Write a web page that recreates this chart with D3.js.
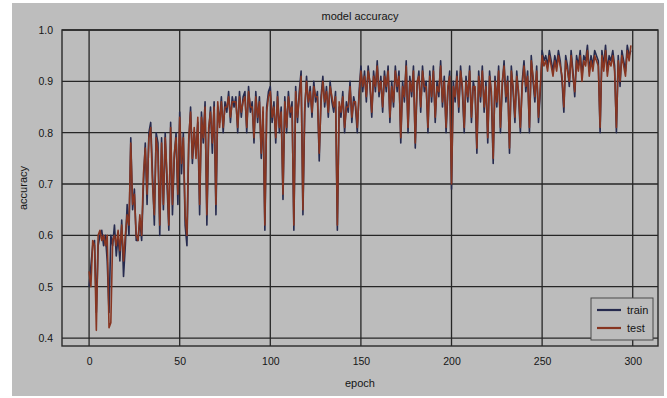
<!DOCTYPE html>
<html>
<head>
<meta charset="utf-8">
<script src="https://cdn.jsdelivr.net/npm/d3@7/dist/d3.min.js"></script>
<style>
  html, body { margin: 0; padding: 0; background: #ffffff; }
  svg { display: block; }
  text { font-family: "Liberation Sans", Arial, sans-serif; fill: #151515; }
</style>
</head>
<body>
<svg id="chart" width="667" height="398"></svg>
<script>
// Per-epoch accuracy for the training and validation runs
const train = [
  .50,.54,.58,.59,.45,.58,.60,.61,.58,.60,
  .55,.45,.60,.58,.62,.56,.60,.55,.63,.52,
  .58,.66,.60,.79,.65,.69,.59,.59,.63,.59,
  .70,.78,.66,.80,.82,.72,.62,.80,.78,.60,
  .79,.65,.80,.70,.61,.82,.64,.75,.80,.66,
  .84,.72,.80,.62,.58,.78,.85,.74,.80,.76,
  .82,.64,.84,.78,.86,.62,.80,.85,.76,.86,
  .64,.85,.82,.87,.80,.86,.84,.88,.82,.87,
  .85,.87,.80,.88,.83,.87,.88,.80,.89,.84,
  .86,.78,.88,.82,.87,.75,.84,.61,.85,.88,
  .89,.82,.86,.78,.88,.80,.85,.67,.87,.80,
  .88,.83,.86,.61,.89,.82,.88,.92,.64,.84,
  .91,.85,.89,.83,.90,.86,.88,.745,.87,.91,
  .85,.89,.83,.90,.86,.84,.88,.61,.85,.83,
  .88,.80,.86,.84,.90,.82,.87,.85,.80,.88,
  .93,.88,.92,.86,.93,.89,.83,.92,.88,.94,
  .87,.91,.84,.92,.88,.93,.82,.90,.85,.93,
  .88,.92,.78,.90,.86,.94,.80,.91,.87,.93,
  .77,.89,.92,.84,.93,.88,.90,.80,.92,.86,
  .93,.82,.90,.87,.94,.85,.91,.80,.88,.92,
  .69,.90,.86,.92,.84,.93,.88,.80,.91,.86,
  .93,.82,.90,.88,.76,.92,.86,.93,.84,.90,
  .78,.92,.87,.74,.91,.85,.93,.80,.89,.94,
  .86,.91,.76,.93,.88,.82,.92,.87,.80,.90,
  .94,.88,.92,.80,.95,.90,.86,.93,.82,.88,
  .96,.94,.95,.93,.96,.94,.92,.95,.93,.96,
  .94,.90,.84,.95,.93,.89,.96,.92,.87,.95,
  .93,.96,.91,.95,.94,.97,.92,.95,.93,.96,
  .95,.94,.80,.96,.93,.97,.92,.95,.94,.96,
  .93,.80,.95,.89,.96,.94,.92,.97,.95,.96
];
const test = [
  .53,.50,.59,.58,.415,.60,.61,.59,.60,.58,
  .60,.42,.43,.59,.60,.58,.61,.57,.62,.55,
  .60,.64,.62,.78,.66,.68,.60,.59,.64,.60,
  .72,.77,.68,.79,.81,.70,.64,.79,.76,.62,
  .78,.66,.79,.72,.62,.81,.66,.76,.79,.68,
  .83,.74,.79,.64,.60,.79,.84,.75,.81,.75,
  .83,.66,.83,.79,.85,.64,.81,.84,.78,.85,
  .66,.86,.81,.86,.81,.85,.85,.87,.83,.86,
  .86,.86,.81,.87,.84,.86,.87,.81,.88,.85,
  .85,.79,.87,.83,.86,.76,.85,.62,.84,.87,
  .88,.83,.85,.79,.87,.81,.84,.68,.86,.81,
  .87,.84,.85,.62,.88,.83,.87,.91,.65,.85,
  .90,.86,.88,.84,.89,.87,.87,.76,.86,.90,
  .86,.88,.84,.89,.87,.85,.87,.62,.86,.84,
  .87,.81,.85,.85,.89,.83,.86,.86,.81,.87,
  .92,.89,.91,.87,.92,.90,.84,.91,.89,.93,
  .88,.90,.85,.91,.89,.92,.83,.89,.86,.92,
  .89,.91,.79,.89,.87,.93,.81,.90,.88,.92,
  .78,.90,.91,.85,.92,.89,.89,.81,.91,.87,
  .92,.83,.89,.88,.93,.86,.90,.81,.89,.91,
  .70,.89,.87,.91,.85,.92,.89,.81,.90,.87,
  .92,.83,.89,.89,.77,.91,.87,.92,.85,.89,
  .79,.91,.88,.75,.90,.86,.92,.81,.90,.93,
  .87,.90,.77,.92,.89,.83,.91,.88,.81,.89,
  .93,.89,.91,.81,.94,.91,.87,.92,.83,.89,
  .95,.93,.94,.92,.95,.93,.91,.94,.92,.95,
  .93,.91,.85,.94,.92,.90,.95,.91,.88,.94,
  .92,.95,.90,.94,.93,.96,.91,.94,.92,.95,
  .94,.93,.81,.95,.92,.96,.91,.94,.93,.95,
  .92,.81,.94,.90,.95,.93,.91,.96,.94,.97
];
const xTicks = [0, 50, 100, 150, 200, 250, 300];
const yTicks = [0.4, 0.5, 0.6, 0.7, 0.8, 0.9, 1.0];
const seriesNames = ["train", "test"];
const seriesColors = ["#262a4e", "#873521"];

const svg = d3.select("#chart");
const W = 667, H = 398;
const margin = { left: 62, top: 30, right: 9, bottom: 52 };
const iw = W - margin.left - margin.right;
const ih = H - margin.top - margin.bottom;

// figure background
svg.append("rect").attr("x", 12).attr("y", 3).attr("width", 652).attr("height", 393)
  .attr("fill", "#bdbdbd");

const x = d3.scaleLinear().domain([-14.95, 313.95]).range([0, iw]);
const y = d3.scaleLinear().domain([0.3845, 1.0]).range([ih, 0]);

const g = svg.append("g").attr("transform", `translate(${margin.left},${margin.top})`);

g.append("rect").attr("width", iw).attr("height", ih).attr("fill", "#bcbcbc");

// grid
g.append("g").selectAll("line").data(xTicks).join("line")
  .attr("x1", d => x(d)).attr("x2", d => x(d)).attr("y1", 0).attr("y2", ih)
  .attr("stroke", "#262626").attr("stroke-width", 1.3);
g.append("g").selectAll("line").data(yTicks).join("line")
  .attr("y1", d => y(d)).attr("y2", d => y(d)).attr("x1", 0).attr("x2", iw)
  .attr("stroke", "#262626").attr("stroke-width", 1.3);

// axes (labels only, ticks hidden)
const xAxis = d3.axisBottom(x).tickValues(xTicks).tickFormat(d3.format("d")).tickSize(0).tickPadding(12);
const yAxis = d3.axisLeft(y).tickValues(yTicks).tickFormat(d3.format(".1f")).tickSize(0).tickPadding(9);
const gx = g.append("g").attr("transform", `translate(0,${ih})`).call(xAxis);
const gy = g.append("g").call(yAxis);
[gx, gy].forEach(a => {
  a.select(".domain").remove();
  a.selectAll("text").attr("font-size", 10.5).attr("fill", "#151515")
    .attr("font-family", "'Liberation Sans', Arial, sans-serif");
});

// lines
const line = d3.line().x((d, i) => x(i)).y(d => y(d));
[train, test].forEach((s, k) => {
  g.append("path").datum(s).attr("d", line)
    .attr("fill", "none").attr("stroke", seriesColors[k])
    .attr("stroke-width", 1.6).attr("stroke-linejoin", "round");
});

// frame
g.append("rect").attr("width", iw).attr("height", ih)
  .attr("fill", "none").attr("stroke", "#2a2a2a").attr("stroke-width", 1.4);

// titles
svg.append("text").attr("x", margin.left + iw / 2).attr("y", 20)
  .attr("text-anchor", "middle").attr("font-size", 11).text("model accuracy");
svg.append("text").attr("x", margin.left + iw / 2).attr("y", 387)
  .attr("text-anchor", "middle").attr("font-size", 11).text("epoch");
svg.append("text").attr("transform", `translate(27,${margin.top + ih / 2}) rotate(-90)`)
  .attr("text-anchor", "middle").attr("font-size", 11).text("accuracy");

// legend
const lg = g.append("g").attr("transform", `translate(${iw - 67},${ih - 48})`);
lg.append("rect").attr("width", 62).attr("height", 42)
  .attr("fill", "#bcbcbc").attr("stroke", "#4a4a4a").attr("stroke-width", 1);
seriesNames.forEach((n, i) => {
  const yy = 12 + i * 18;
  lg.append("line").attr("x1", 6).attr("x2", 30).attr("y1", yy).attr("y2", yy)
    .attr("stroke", seriesColors[i]).attr("stroke-width", 2.2);
  lg.append("text").attr("x", 36).attr("y", yy + 4).attr("font-size", 11).text(n);
});
</script>
</body>
</html>
